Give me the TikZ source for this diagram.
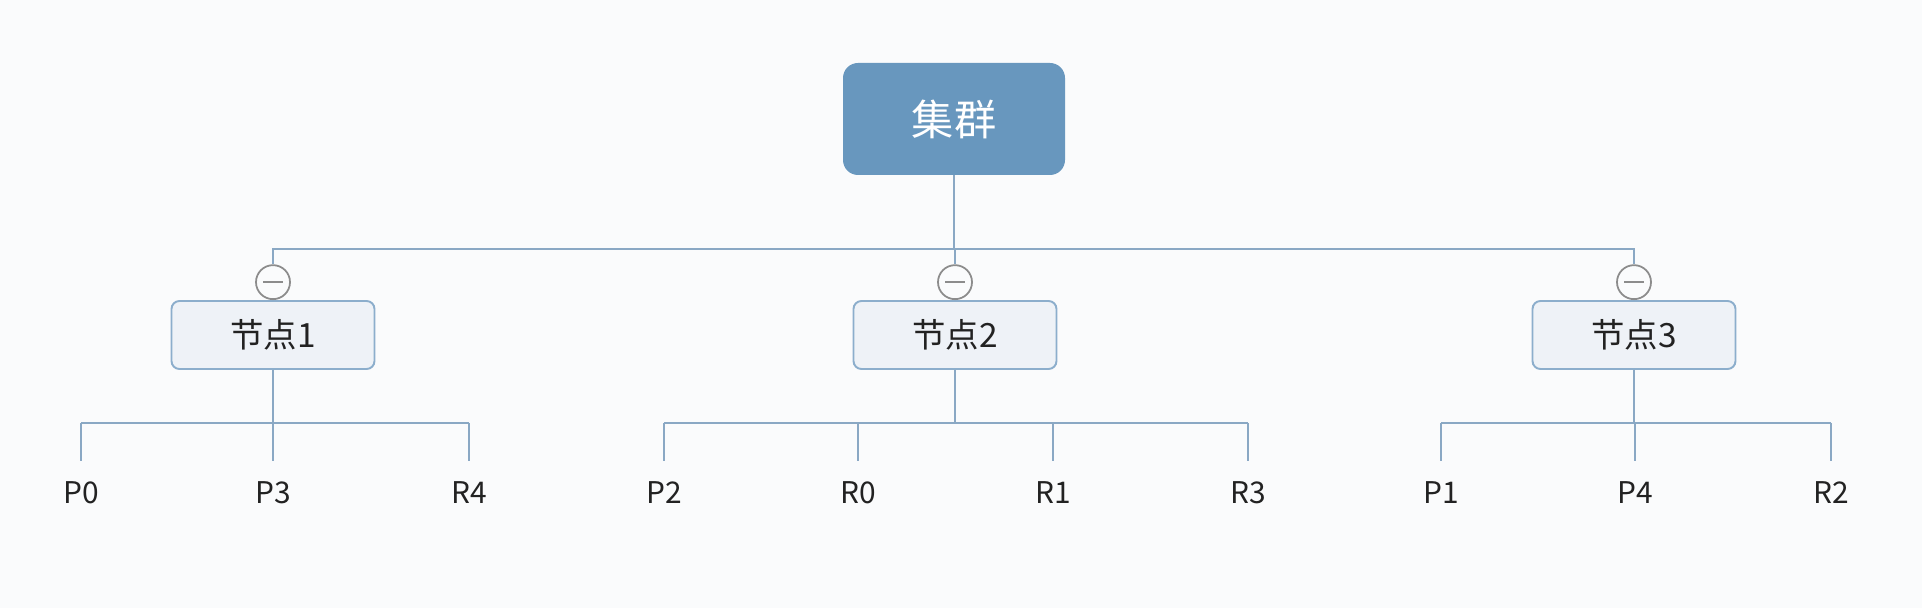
\documentclass[tikz,border=0pt]{standalone}
\usepackage{fontspec}
\newfontfamily\cjk{Noto Sans CJK SC}
\usetikzlibrary{positioning}
\definecolor{bgcol}{RGB}{250,251,252}
\definecolor{rootblue}{RGB}{104,151,190}
\definecolor{boxfill}{RGB}{238,242,247}
\definecolor{boxline}{RGB}{140,174,204}
\definecolor{linkcol}{RGB}{138,168,196}
\definecolor{markgray}{RGB}{140,140,140}
\definecolor{txt}{RGB}{34,34,34}
\tikzset{
  root/.style={rectangle, rounded corners=0.3cm, fill=rootblue, text=white,
    minimum width=4.44cm, minimum height=2.24cm, font=\cjk\fontsize{24}{28}\selectfont},
  member/.style={rectangle, rounded corners=0.16cm, draw=boxline, line width=1.1pt,
    fill=boxfill, text=txt, minimum width=4.06cm, minimum height=1.36cm,
    font=\cjk\fontsize{19}{22}\selectfont},
  leaf/.style={inner sep=0pt, minimum height=1.28cm, text=txt,
    font=\cjk\fontsize{17}{20}\selectfont},
  minus/.style={circle, draw=markgray, line width=1pt, fill=bgcol,
    minimum size=0.68cm, inner sep=0pt,
    path picture={\draw[markgray, line width=1pt]
      ([xshift=-0.2cm]path picture bounding box.center) --
      ([xshift=0.2cm]path picture bounding box.center);}},
  link/.style={draw=linkcol, line width=1.5pt}
}
\begin{document}
\begin{tikzpicture}
\fill[bgcol] (0,0) rectangle (38.44,-12.16);
\useasboundingbox (0,0) rectangle (38.44,-12.16);

\node[root] (cluster) at (19.08,-2.38) {集群};
\node[member] (n1) at (5.46,-6.70) {节点1};
\node[member] (n2) at (19.10,-6.70) {节点2};
\node[member] (n3) at (32.68,-6.70) {节点3};
\node[minus, above=0pt of n1] (m1) {};
\node[minus, above=0pt of n2] (m2) {};
\node[minus, above=0pt of n3] (m3) {};

\coordinate (hb) at (19.08,-4.98);
\draw[link] (cluster.south) -- (hb);
\draw[link] (hb) -| (m1.north);
\draw[link] (hb) -| (m3.north);
\draw[link] (hb -| m2) -- (m2.north);

\node[leaf] (p0) at (1.62,-9.86) {P0};
\node[leaf] (p3) at (5.46,-9.86) {P3};
\node[leaf] (r4) at (9.38,-9.86) {R4};
\node[leaf] (p2) at (13.28,-9.86) {P2};
\node[leaf] (r0) at (17.16,-9.86) {R0};
\node[leaf] (r1) at (21.06,-9.86) {R1};
\node[leaf] (r3) at (24.96,-9.86) {R3};
\node[leaf] (p1) at (28.82,-9.86) {P1};
\node[leaf] (p4) at (32.70,-9.86) {P4};
\node[leaf] (r2) at (36.62,-9.86) {R2};

\draw[link] (n1.south) -- ++(0,-1.06) coordinate (b1);
\draw[link] (n2.south) -- ++(0,-1.06) coordinate (b2);
\draw[link] (n3.south) -- ++(0,-1.06) coordinate (b3);
\draw[link] (b1 -| p0.north) -- (b1 -| r4.north);
\draw[link] (b2 -| p2.north) -- (b2 -| r3.north);
\draw[link] (b3 -| p1.north) -- (b3 -| r2.north);
\foreach \l in {p0,p3,r4} \draw[link] (b1 -| \l.north) -- (\l.north);
\foreach \l in {p2,r0,r1,r3} \draw[link] (b2 -| \l.north) -- (\l.north);
\foreach \l in {p1,p4,r2} \draw[link] (b3 -| \l.north) -- (\l.north);
\end{tikzpicture}
\end{document}
